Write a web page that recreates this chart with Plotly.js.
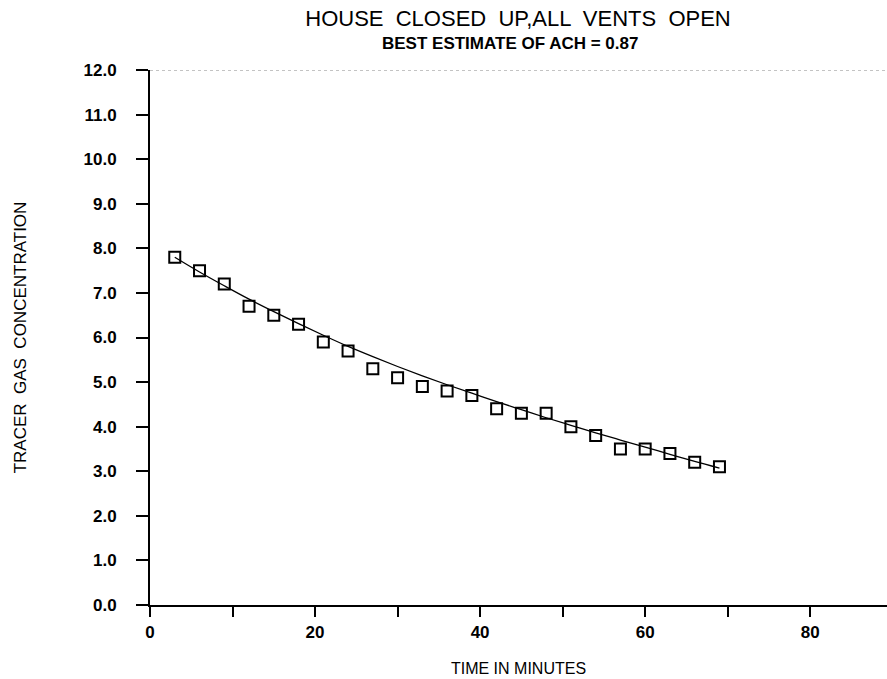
<!DOCTYPE html>
<html>
<head>
<meta charset="utf-8">
<script src="https://cdn.plot.ly/plotly-3.0.1.min.js"></script>
<style>html,body{margin:0;padding:0;background:#fff;}#chart{width:887px;height:679px;}</style>
</head>
<body>
<div id="chart"></div>
<script>
// Measured tracer gas concentration (squares)
const timeMinutes = [3, 6, 9, 12, 15, 18, 21, 24, 27, 30, 33, 36, 39, 42, 45, 48, 51, 54, 57, 60, 63, 66, 69];
const concentration = [7.8, 7.5, 7.2, 6.7, 6.5, 6.3, 5.9, 5.7, 5.3, 5.1, 4.9, 4.8, 4.7, 4.4, 4.3, 4.3, 4.0, 3.8, 3.5, 3.5, 3.4, 3.2, 3.1];
// Best-estimate decay curve
const fitTime = [3, 6, 9, 12, 15, 18, 21, 24, 27, 30, 33, 36, 39, 42, 45, 48, 51, 54, 57, 60, 63, 66, 69];
const fitConc = [7.80, 7.47, 7.16, 6.86, 6.58, 6.31, 6.05, 5.80, 5.57, 5.35, 5.14, 4.94, 4.75, 4.56, 4.38, 4.20, 4.03, 3.86, 3.70, 3.54, 3.38, 3.22, 3.07];
const xTickVals = [0, 20, 40, 60, 80];
const yTickVals = [0, 1, 2, 3, 4, 5, 6, 7, 8, 9, 10, 11, 12];

const tickFont = {family: 'Liberation Sans, Arial, sans-serif', size: 17, color: '#000', weight: 'bold'};

const traces = [
  {x: fitTime, y: fitConc, type: 'scatter', mode: 'lines', line: {color: '#000', width: 1.3, shape: 'spline'}, hoverinfo: 'skip'},
  {x: timeMinutes, y: concentration, type: 'scatter', mode: 'markers',
   marker: {symbol: 'square-open', size: 11, color: '#000', line: {color: '#000', width: 2}}}
];

const layout = {
  width: 887, height: 679,
  margin: {l: 150, r: 0, t: 70, b: 74},
  paper_bgcolor: '#fff', plot_bgcolor: '#fff',
  showlegend: false,
  title: {text: 'HOUSE  CLOSED  UP,ALL  VENTS  OPEN', font: {family: 'Liberation Sans, Arial, sans-serif', size: 22, color: '#000'},
          x: 0.584, xanchor: 'center', y: 0.973, yanchor: 'middle'},
  annotations: [{text: '<b>BEST ESTIMATE OF ACH = 0.87</b>', xref: 'paper', yref: 'paper', x: 0.488, y: 1, yshift: 27,
                 xanchor: 'center', yanchor: 'middle', showarrow: false,
                 font: {family: 'Liberation Sans, Arial, sans-serif', size: 17, color: '#000'}}],
  shapes: [{type: 'line', xref: 'paper', yref: 'y', x0: 0, x1: 1, y0: 12, y1: 12, line: {color: '#888', width: 1, dash: 'dot'}}],
  xaxis: {
    range: [0, 89.3], tickvals: xTickVals, ticktext: xTickVals.map(String),
    showgrid: false, zeroline: false, showline: true, linecolor: '#000', linewidth: 2,
    ticks: 'outside', ticklen: 10, tickwidth: 2, tickcolor: '#000',
    minor: {dtick: 10, tick0: 0, ticks: 'outside', ticklen: 10, tickwidth: 2, tickcolor: '#000', showgrid: false},
    tickfont: tickFont, ticklabelstandoff: 1,
    title: {text: 'TIME IN MINUTES', font: {family: 'Liberation Sans Narrow, Liberation Sans, Arial, sans-serif', size: 16, color: '#000'}, standoff: 21},
    fixedrange: true
  },
  yaxis: {
    range: [0, 12], tickvals: yTickVals, ticktext: yTickVals.map(v => v.toFixed(1)),
    showgrid: false, zeroline: false, showline: true, linecolor: '#000', linewidth: 2,
    ticks: 'outside', ticklen: 12, tickwidth: 2, tickcolor: '#000',
    tickfont: tickFont, ticklabelstandoff: 16,
    title: {text: 'TRACER&nbsp;&nbsp;GAS&nbsp;&nbsp;CONCENTRATION', font: {family: 'Liberation Sans, Arial, sans-serif', size: 17, color: '#000'}, standoff: 53},
    fixedrange: true
  }
};

Plotly.newPlot('chart', traces, layout, {displayModeBar: false, staticPlot: true});
</script>
</body>
</html>
